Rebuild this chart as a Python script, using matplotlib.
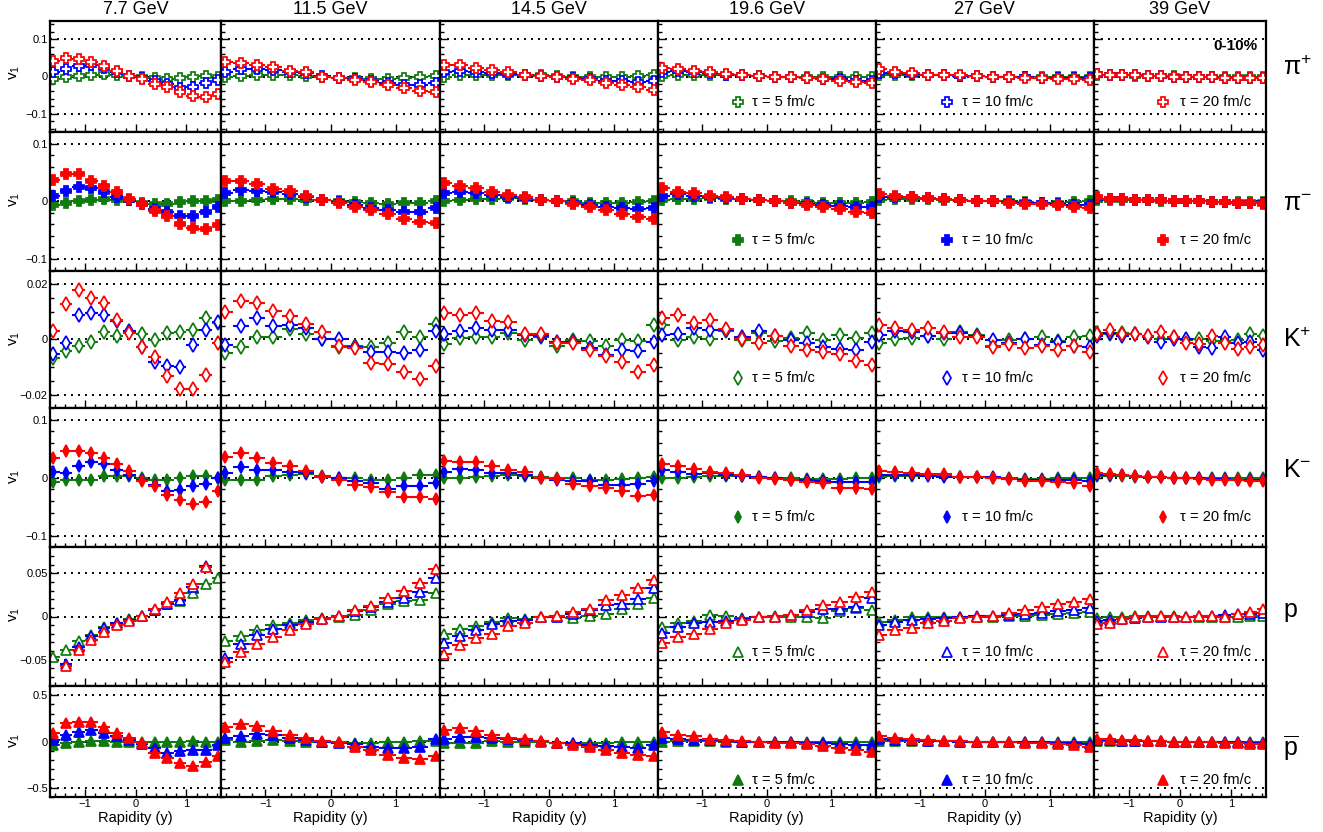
import numpy as np
import matplotlib
matplotlib.use("Agg")
import matplotlib.pyplot as plt
from matplotlib.ticker import MultipleLocator, FuncFormatter
from matplotlib.lines import Line2D

plt.rcParams['font.family'] = ['Liberation Sans', 'DejaVu Sans']
plt.rcParams['mathtext.fontset'] = 'custom'
plt.rcParams['mathtext.rm'] = 'Liberation Sans'
plt.rcParams['mathtext.it'] = 'Liberation Sans:italic'
plt.rcParams['mathtext.bf'] = 'Liberation Sans:bold'

nan = float('nan')

# ---------------- data ----------------
energies = ["7.7 GeV", "11.5 GeV", "14.5 GeV", "19.6 GeV", "27 GeV", "39 GeV"]
tau_labels = ["\u03c4 = 5 fm/c", "\u03c4 = 10 fm/c", "\u03c4 = 20 fm/c"]
particle_labels = [r"$\mathrm{\pi^{+}}$", r"$\mathrm{\pi^{-}}$", r"$\mathrm{K^{+}}$",
                   r"$\mathrm{K^{-}}$", r"$\mathrm{p}$", r"$\mathrm{\overline{p}}$"]
rapidity = [-1.625, -1.375, -1.125, -0.875, -0.625, -0.375, -0.125,
            0.125, 0.375, 0.625, 0.875, 1.125, 1.375, 1.625]
rapidity_halfwidth = 0.125

# pi+
pip_t5 = [
    [-0.007, 0.000, 0.002, 0.004, 0.007, 0.004, 0.002, -0.002, -0.005, -0.007, -0.004, 0.000, 0.002, -0.002],
    [-0.002, 0.002, 0.004, 0.005, 0.004, 0.002, 0.000, -0.004, -0.005, -0.007, -0.007, -0.005, -0.002, 0.002],
    [0.000, 0.004, 0.004, 0.005, 0.005, 0.004, 0.003, 0.001, 0.000, -0.002, -0.002, 0.000, 0.002, 0.003],
    [0.002, 0.004, 0.005, 0.005, 0.004, 0.004, 0.002, 0.000, -0.001, -0.002, -0.002, -0.001, 0.000, 0.000],
    [0.003, 0.005, 0.004, 0.004, 0.003, 0.002, 0.001, 0.000, 0.000, -0.001, -0.001, -0.001, 0.000, 0.000],
    [0.003, 0.003, 0.003, 0.002, 0.002, 0.001, 0.001, 0.000, 0.000, -0.001, -0.001, -0.001, -0.001, -0.001]]
pip_t10 = [
    [0.011, 0.020, 0.027, 0.030, 0.024, 0.013, 0.002, -0.004, -0.013, -0.021, -0.031, -0.029, -0.018, -0.009],
    [0.013, 0.020, 0.020, 0.018, 0.013, 0.009, 0.002, -0.003, -0.007, -0.011, -0.018, -0.022, -0.022, -0.018],
    [0.013, 0.014, 0.013, 0.010, 0.007, 0.004, 0.002, 0.000, -0.004, -0.006, -0.011, -0.013, -0.016, -0.013],
    [0.013, 0.014, 0.013, 0.009, 0.005, 0.004, 0.002, 0.000, -0.002, -0.004, -0.006, -0.008, -0.011, -0.013],
    [0.010, 0.010, 0.007, 0.004, 0.004, 0.002, 0.001, 0.000, -0.001, -0.002, -0.003, -0.004, -0.004, -0.005],
    [0.006, 0.005, 0.004, 0.003, 0.002, 0.001, 0.000, 0.000, -0.001, -0.002, -0.003, -0.003, -0.003, -0.004]]
pip_t20 = [
    [0.043, 0.049, 0.047, 0.039, 0.029, 0.016, 0.002, -0.006, -0.020, -0.029, -0.043, -0.052, -0.056, -0.046],
    [0.040, 0.037, 0.031, 0.025, 0.016, 0.011, 0.000, -0.005, -0.009, -0.016, -0.024, -0.031, -0.040, -0.043],
    [0.032, 0.030, 0.023, 0.018, 0.011, 0.005, 0.001, -0.002, -0.006, -0.010, -0.018, -0.023, -0.029, -0.036],
    [0.023, 0.021, 0.016, 0.011, 0.007, 0.004, 0.001, 0.000, -0.002, -0.004, -0.007, -0.011, -0.014, -0.017],
    [0.019, 0.013, 0.009, 0.005, 0.004, 0.003, 0.001, 0.000, -0.001, -0.004, -0.005, -0.006, -0.008, -0.010],
    [0.007, 0.005, 0.004, 0.003, 0.002, 0.001, 0.000, 0.000, -0.001, -0.002, -0.003, -0.004, -0.004, -0.005]]

# pi-
pim_t5 = [
    [-0.007, -0.003, 0.000, 0.002, 0.004, 0.003, 0.003, -0.002, -0.004, -0.004, -0.001, 0.000, 0.001, 0.003],
    [0.000, 0.000, 0.003, 0.005, 0.004, 0.003, 0.002, 0.000, -0.001, -0.003, -0.004, -0.003, -0.002, 0.001],
    [0.001, 0.003, 0.004, 0.005, 0.006, 0.005, 0.003, 0.001, 0.000, -0.002, -0.003, -0.003, -0.001, 0.000],
    [0.002, 0.004, 0.005, 0.006, 0.005, 0.004, 0.003, 0.001, 0.000, -0.001, -0.002, -0.003, -0.002, -0.001],
    [0.003, 0.004, 0.004, 0.004, 0.003, 0.003, 0.001, 0.001, 0.000, -0.001, -0.002, -0.002, -0.001, 0.000],
    [0.003, 0.003, 0.003, 0.002, 0.002, 0.001, 0.001, 0.000, 0.000, -0.001, -0.001, -0.001, -0.001, -0.001]]
pim_t10 = [
    [0.009, 0.018, 0.025, 0.023, 0.016, 0.008, 0.003, -0.004, -0.013, -0.019, -0.025, -0.025, -0.018, -0.009],
    [0.015, 0.019, 0.018, 0.016, 0.012, 0.008, 0.003, -0.001, -0.006, -0.012, -0.015, -0.018, -0.018, -0.012],
    [0.015, 0.017, 0.014, 0.011, 0.008, 0.006, 0.003, 0.000, -0.003, -0.006, -0.009, -0.011, -0.014, -0.012],
    [0.010, 0.013, 0.010, 0.008, 0.006, 0.004, 0.002, 0.000, -0.002, -0.004, -0.006, -0.008, -0.010, -0.010],
    [0.007, 0.008, 0.007, 0.006, 0.004, 0.003, 0.001, 0.000, -0.001, -0.002, -0.003, -0.004, -0.006, -0.006],
    [0.006, 0.005, 0.004, 0.003, 0.002, 0.002, 0.001, 0.000, 0.000, -0.001, -0.001, -0.002, -0.002, -0.003]]
pim_t20 = [
    [0.038, 0.047, 0.047, 0.036, 0.026, 0.016, 0.005, -0.005, -0.016, -0.026, -0.039, -0.047, -0.048, -0.041],
    [0.035, 0.035, 0.030, 0.022, 0.018, 0.009, 0.003, -0.002, -0.009, -0.015, -0.022, -0.031, -0.035, -0.038],
    [0.032, 0.027, 0.023, 0.017, 0.011, 0.007, 0.003, 0.000, -0.005, -0.010, -0.015, -0.022, -0.027, -0.030],
    [0.023, 0.017, 0.014, 0.009, 0.007, 0.005, 0.003, 0.000, -0.003, -0.006, -0.009, -0.013, -0.018, -0.021],
    [0.013, 0.010, 0.008, 0.006, 0.004, 0.002, 0.001, 0.000, -0.002, -0.004, -0.005, -0.007, -0.010, -0.012],
    [0.008, 0.005, 0.004, 0.003, 0.003, 0.002, 0.001, 0.001, 0.000, -0.001, -0.001, -0.002, -0.003, -0.004]]

# K+
kp_t5 = [
    [-0.0069, -0.0041, -0.0023, -0.0011, 0.0028, 0.0013, 0.0028, 0.0019, -0.0001, 0.0023, 0.0028, 0.0035, 0.0079, 0.0061],
    [-0.0049, -0.0029, 0.0007, 0.0007, 0.0037, 0.0019, 0.0001, -0.0029, -0.0025, -0.0029, -0.0013, 0.0028, 0.0007, 0.0055],
    [-0.0017, 0.0004, 0.0010, 0.0010, 0.0023, -0.0001, 0.0007, -0.0023, -0.0001, -0.0005, -0.0023, -0.0001, -0.0005, 0.0052],
    [0.0052, -0.0001, 0.0007, 0.0001, 0.0031, -0.0001, 0.0023, -0.0005, 0.0004, 0.0025, -0.0001, 0.0016, 0.0004, 0.0023],
    [-0.0013, 0.0001, 0.0004, 0.0013, 0.0001, 0.0028, 0.0016, -0.0023, -0.0001, 0.0001, 0.0007, -0.0005, 0.0007, 0.0013],
    [0.0023, 0.0019, 0.0025, 0.0019, 0.0013, 0.0001, 0.0007, -0.0001, 0.0001, -0.0005, -0.0005, -0.0001, 0.0019, 0.0013]]
kp_t10 = [
    [-0.0053, -0.0013, 0.0088, 0.0094, 0.0088, 0.0067, 0.0031, -0.0029, -0.0083, -0.0095, -0.0099, -0.0020, 0.0034, 0.0064],
    [-0.0020, 0.0047, 0.0077, 0.0049, 0.0052, 0.0040, 0.0001, 0.0001, -0.0029, -0.0047, -0.0047, -0.0049, -0.0038, 0.0031],
    [0.0019, 0.0031, 0.0043, 0.0034, 0.0034, 0.0016, 0.0013, -0.0008, -0.0008, -0.0032, -0.0056, -0.0037, -0.0041, -0.0008],
    [0.0016, 0.0019, 0.0040, 0.0034, 0.0035, 0.0007, 0.0031, 0.0011, -0.0001, -0.0013, -0.0029, -0.0035, -0.0037, -0.0011],
    [0.0016, 0.0031, 0.0028, 0.0013, 0.0025, 0.0023, 0.0013, -0.0001, -0.0013, 0.0001, -0.0020, -0.0011, -0.0025, -0.0029],
    [0.0013, 0.0025, 0.0013, 0.0019, 0.0007, -0.0011, 0.0001, 0.0001, -0.0029, -0.0032, 0.0007, -0.0013, -0.0008, -0.0037]]
kp_t20 = [
    [0.0029, 0.0130, 0.0179, 0.0149, 0.0133, 0.0070, 0.0022, -0.0029, -0.0065, -0.0131, -0.0179, -0.0179, -0.0129, -0.0013],
    [0.0100, 0.0139, 0.0133, 0.0103, 0.0085, 0.0055, 0.0028, -0.0025, -0.0032, -0.0087, -0.0089, -0.0117, -0.0143, -0.0095],
    [0.0097, 0.0088, 0.0095, 0.0067, 0.0064, 0.0019, 0.0019, -0.0013, -0.0013, -0.0038, -0.0061, -0.0081, -0.0117, -0.0093],
    [0.0079, 0.0088, 0.0061, 0.0071, 0.0037, 0.0001, -0.0013, 0.0011, -0.0023, -0.0038, -0.0047, -0.0053, -0.0077, -0.0093],
    [0.0052, 0.0040, 0.0035, 0.0040, 0.0028, 0.0007, 0.0007, -0.0029, -0.0017, -0.0032, -0.0025, -0.0037, -0.0025, -0.0047],
    [0.0019, 0.0035, 0.0019, 0.0019, 0.0013, 0.0028, 0.0007, -0.0013, -0.0017, 0.0013, -0.0013, -0.0035, -0.0029, -0.0020]]

# K-
km_t5 = [
    [-0.008, -0.004, -0.003, -0.004, 0.003, 0.003, 0.003, 0.000, -0.004, -0.003, -0.001, 0.003, 0.003, 0.000],
    [-0.003, -0.004, -0.003, 0.003, 0.004, 0.006, 0.003, 0.000, 0.000, -0.004, -0.004, 0.000, 0.004, 0.004],
    [0.000, 0.000, 0.002, 0.003, 0.004, 0.003, 0.002, 0.000, -0.001, -0.003, -0.003, -0.002, 0.000, 0.002],
    [0.000, -0.001, 0.002, 0.003, 0.003, 0.003, 0.002, 0.000, -0.001, -0.002, -0.002, -0.002, -0.001, 0.000],
    [0.002, 0.003, 0.003, 0.004, 0.003, 0.002, 0.001, 0.000, -0.001, -0.002, -0.002, -0.001, -0.001, 0.000],
    [0.003, 0.003, 0.003, 0.002, 0.002, 0.001, 0.000, 0.000, -0.001, -0.001, -0.001, -0.001, -0.001, -0.001]]
km_t10 = [
    [0.010, 0.008, 0.021, 0.027, 0.023, 0.013, 0.004, -0.003, -0.013, -0.023, -0.021, -0.014, -0.010, 0.000],
    [0.008, 0.018, 0.014, 0.014, 0.010, 0.009, 0.002, -0.001, -0.006, -0.009, -0.019, -0.014, -0.014, -0.009],
    [0.010, 0.016, 0.013, 0.009, 0.008, 0.005, 0.000, -0.003, -0.005, -0.006, -0.012, -0.012, -0.010, -0.006],
    [0.013, 0.010, 0.006, 0.008, 0.004, 0.003, 0.001, 0.000, -0.003, -0.004, -0.006, -0.007, -0.007, -0.007],
    [0.005, 0.004, 0.004, 0.003, 0.002, 0.001, 0.001, 0.002, -0.002, -0.003, -0.003, -0.004, -0.004, -0.005],
    [0.005, 0.004, 0.004, 0.003, 0.002, 0.001, 0.000, -0.001, -0.001, -0.002, -0.002, -0.003, -0.003, -0.004]]
km_t20 = [
    [0.034, 0.046, 0.047, 0.043, 0.035, 0.023, 0.012, -0.006, -0.014, -0.030, -0.038, -0.046, -0.042, -0.023],
    [0.036, 0.042, 0.034, 0.025, 0.020, 0.012, 0.002, -0.004, -0.012, -0.016, -0.025, -0.034, -0.034, -0.036],
    [0.029, 0.028, 0.027, 0.020, 0.014, 0.010, 0.000, -0.002, -0.010, -0.014, -0.018, -0.023, -0.032, -0.029],
    [0.024, 0.020, 0.016, 0.010, 0.008, 0.005, 0.000, -0.002, -0.003, -0.008, -0.009, -0.017, -0.017, -0.020],
    [0.012, 0.010, 0.008, 0.006, 0.006, 0.002, 0.002, 0.000, -0.002, -0.005, -0.005, -0.008, -0.009, -0.014],
    [0.008, 0.006, 0.004, 0.003, 0.002, 0.001, 0.000, -0.001, -0.002, -0.003, -0.003, -0.004, -0.005, -0.005]]

# p
p_t5 = [
    [-0.047, -0.039, -0.028, -0.021, -0.012, -0.007, -0.003, 0.001, 0.008, 0.015, 0.018, 0.027, 0.038, 0.045],
    [-0.028, -0.022, -0.016, -0.010, -0.007, -0.004, -0.002, 0.000, 0.002, 0.007, 0.014, 0.018, 0.019, 0.027],
    [-0.020, -0.014, -0.011, -0.006, -0.002, -0.003, 0.000, 0.001, -0.002, 0.001, 0.003, 0.009, 0.015, 0.021],
    [-0.012, -0.008, -0.005, 0.002, 0.001, -0.002, 0.000, 0.001, 0.000, 0.000, -0.002, 0.006, 0.010, 0.007],
    [-0.006, -0.004, -0.001, 0.000, 0.000, 0.000, 0.000, 0.000, 0.001, 0.001, 0.002, 0.003, 0.004, 0.005],
    [-0.002, -0.001, 0.000, 0.001, 0.001, 0.001, 0.001, 0.000, 0.000, 0.000, 0.000, 0.000, 0.001, 0.001]]
p_t10 = [
    [nan, -0.055, -0.035, -0.022, -0.013, -0.008, -0.004, 0.001, 0.007, 0.015, 0.019, 0.034, 0.058, nan],
    [-0.048, -0.032, -0.021, -0.014, -0.010, -0.006, -0.003, 0.001, 0.006, 0.011, 0.017, 0.021, 0.028, 0.044],
    [-0.031, -0.022, -0.016, -0.009, -0.005, -0.004, 0.000, 0.000, 0.003, 0.008, 0.013, 0.015, 0.020, 0.033],
    [-0.019, -0.012, -0.008, -0.006, -0.005, -0.003, 0.000, 0.000, 0.002, 0.005, 0.009, 0.009, 0.011, 0.021],
    [-0.010, -0.006, -0.004, -0.003, -0.002, 0.000, 0.001, 0.001, 0.002, 0.003, 0.004, 0.006, 0.008, 0.010],
    [-0.005, -0.004, -0.003, -0.002, -0.001, 0.000, 0.000, 0.000, 0.001, 0.001, 0.002, 0.003, 0.003, 0.004]]
p_t20 = [
    [nan, -0.057, -0.039, -0.027, -0.018, -0.010, -0.005, 0.001, 0.009, 0.017, 0.027, 0.037, 0.057, nan],
    [-0.053, -0.041, -0.032, -0.024, -0.016, -0.009, -0.003, 0.001, 0.007, 0.012, 0.021, 0.030, 0.039, 0.055],
    [-0.043, -0.033, -0.025, -0.020, -0.011, -0.007, 0.000, 0.001, 0.005, 0.009, 0.019, 0.025, 0.033, 0.042],
    [-0.031, -0.024, -0.020, -0.014, -0.008, -0.004, 0.000, 0.000, 0.002, 0.007, 0.013, 0.017, 0.022, 0.028],
    [-0.021, -0.016, -0.013, -0.007, -0.005, -0.002, 0.000, 0.001, 0.004, 0.007, 0.011, 0.014, 0.017, 0.020],
    [-0.009, -0.007, -0.003, -0.001, 0.000, 0.001, 0.000, 0.000, 0.001, 0.001, 0.000, 0.003, 0.005, 0.009]]

# anti-proton
pbar_t5 = [
    [-0.036, -0.018, 0.000, 0.007, 0.007, 0.000, 0.000, -0.007, -0.007, -0.007, -0.007, 0.007, 0.000, 0.000],
    [0.018, 0.000, 0.007, 0.011, 0.007, 0.000, 0.000, -0.007, -0.011, -0.018, -0.007, 0.000, 0.007, 0.007],
    [-0.011, -0.011, -0.011, 0.004, 0.000, 0.000, 0.000, -0.011, -0.021, -0.021, -0.011, 0.000, 0.000, 0.000],
    [0.000, 0.004, 0.004, 0.004, 0.000, 0.000, 0.000, -0.007, -0.007, -0.007, 0.000, 0.000, 0.000, 0.000],
    [0.005, 0.005, 0.005, 0.004, 0.003, 0.002, 0.000, 0.000, -0.002, -0.003, -0.004, -0.005, -0.005, -0.005],
    [0.004, 0.004, 0.003, 0.003, 0.002, 0.001, 0.000, 0.000, -0.001, -0.002, -0.003, -0.003, -0.004, -0.004]]
pbar_t10 = [
    [0.018, 0.071, 0.107, 0.125, 0.096, 0.054, 0.018, -0.025, -0.071, -0.125, -0.107, -0.096, -0.089, -0.036],
    [0.036, 0.054, 0.082, 0.071, 0.036, 0.018, 0.000, -0.011, -0.025, -0.054, -0.071, -0.071, -0.061, 0.025],
    [0.025, 0.050, 0.050, 0.039, 0.025, 0.014, 0.004, -0.011, -0.021, -0.039, -0.050, -0.057, -0.067, -0.039],
    [0.039, 0.032, 0.014, 0.014, 0.004, 0.000, 0.000, -0.007, -0.007, -0.011, -0.018, -0.032, -0.039, -0.039],
    [0.025, 0.020, 0.015, 0.010, 0.005, 0.000, 0.000, 0.000, -0.005, -0.010, -0.010, -0.015, -0.020, -0.025],
    [0.015, 0.012, 0.010, 0.008, 0.005, 0.003, 0.000, 0.000, -0.003, -0.005, -0.008, -0.010, -0.012, -0.015]]
pbar_t20 = [
    [0.096, 0.196, 0.214, 0.214, 0.161, 0.089, 0.043, -0.018, -0.125, -0.179, -0.232, -0.268, -0.225, -0.161],
    [0.161, 0.189, 0.168, 0.118, 0.071, 0.036, 0.007, -0.007, -0.054, -0.089, -0.143, -0.179, -0.186, -0.154],
    [0.121, 0.145, 0.110, 0.067, 0.039, 0.025, 0.004, -0.014, -0.039, -0.064, -0.092, -0.128, -0.145, -0.152],
    [0.103, 0.074, 0.060, 0.032, 0.014, 0.004, 0.000, -0.011, -0.011, -0.032, -0.050, -0.074, -0.092, -0.110],
    [0.060, 0.040, 0.025, 0.015, 0.010, 0.005, 0.000, -0.005, -0.010, -0.015, -0.020, -0.030, -0.040, -0.060],
    [0.030, 0.025, 0.020, 0.015, 0.010, 0.005, 0.000, 0.000, -0.005, -0.010, -0.015, -0.020, -0.025, -0.030]]

# small statistical errors in v1 per particle row
v1_err = [0.0015, 0.0015, 0.0006, 0.0015, 0.002, 0.012]

rows_data = [
    (pip_t5, pip_t10, pip_t20),
    (pim_t5, pim_t10, pim_t20),
    (kp_t5, kp_t10, kp_t20),
    (km_t5, km_t10, km_t20),
    (p_t5, p_t10, p_t20),
    (pbar_t5, pbar_t10, pbar_t20),
]

# ---------------- style / layout ----------------
W, H = 1323, 832
col_edges = [50.5, 221, 440, 658, 875.5, 1094, 1266]
row_edges = [20.7, 132.3, 270.5, 408.3, 547.3, 685.7, 797.3]
ylims = [0.15, 0.12, 0.025, 0.12, 0.08, 0.6]
ymajor = [0.1, 0.1, 0.02, 0.1, 0.05, 0.5]
yminor = [0.02, 0.02, 0.005, 0.02, 0.01, 0.1]
colors = ['#0f7a0f', '#0000ff', '#ff0000']
# marker, filled?, size
row_markers = [('P', False, 7.8), ('P', True, 7.2), ('d', False, 7.2),
               ('d', True, 5.8), ('^', False, 7.5), ('^', True, 7.0)]

fig = plt.figure(figsize=(W / 100, H / 100), dpi=100)


def fmt(v, pos):
    if abs(v) < 1e-9:
        return '0'
    return ('%g' % v).replace('-', '\u2212')


def fx(px):
    return px / W


def fy(py):
    return 1 - py / H


for r in range(6):
    mk, filled, ms = row_markers[r]
    for c in range(6):
        x0, x1 = col_edges[c], col_edges[c + 1]
        y0, y1 = row_edges[r], row_edges[r + 1]
        ax = fig.add_axes([fx(x0), fy(y1), (x1 - x0) / W, (y1 - y0) / H])
        ax.set_xlim(-1.68, 1.68)
        ax.set_ylim(-ylims[r], ylims[r])
        k = int(np.floor(ylims[r] / ymajor[r] + 1e-9))
        for i in range(-k, k + 1):
            ax.axhline(i * ymajor[r], color='black', lw=1.4,
                       ls=(0, (1, 2.6)), zorder=0.5)
        for s in range(3):
            yv = np.array(rows_data[r][s][c], dtype=float)
            col = colors[s]
            ax.errorbar(rapidity, yv, xerr=rapidity_halfwidth, yerr=v1_err[r],
                        fmt='none', ecolor=col, elinewidth=1.5, capsize=0,
                        zorder=2 + s)
            ax.plot(rapidity, yv, ls='none', marker=mk, ms=ms,
                    mfc=(col if filled else 'white'), mec=col, mew=1.25,
                    zorder=2.5 + s)
        ax.xaxis.set_major_locator(MultipleLocator(1))
        ax.xaxis.set_minor_locator(MultipleLocator(0.2))
        ax.yaxis.set_major_locator(MultipleLocator(ymajor[r]))
        ax.yaxis.set_minor_locator(MultipleLocator(yminor[r]))
        ax.xaxis.set_major_formatter(FuncFormatter(fmt))
        ax.yaxis.set_major_formatter(FuncFormatter(fmt))
        ax.tick_params(which='both', direction='in', top=False, right=False,
                       labelsize=8, width=1.0, color='black')
        ax.tick_params(which='major', length=5.5, pad=2)
        ax.tick_params(which='minor', length=2.8)
        ax.tick_params(axis='x', pad=1)
        if c != 0:
            ax.tick_params(axis='y', labelleft=False)
        if r != 5:
            ax.tick_params(axis='x', labelbottom=False)
        for sp in ax.spines.values():
            sp.set_linewidth(1.6)
            sp.set_zorder(10)

        # legend entries in the three right-hand columns
        if c >= 3:
            s = c - 3
            leg_y = [102.3, 240, 378.3, 516.7, 651.7, 780][r]
            mx = [738.3, 946.7, 1163.3][s]
            tx = [751.7, 962.3, 1180][s]
            col = colors[s]
            fig.add_artist(Line2D([fx(mx)], [fy(leg_y)], ls='none', marker=mk,
                                  ms=ms, mfc=(col if filled else 'white'),
                                  mec=col, mew=1.25, transform=fig.transFigure))
            fig.text(fx(tx), fy(leg_y), tau_labels[s], ha='left', va='center',
                     fontsize=10.5)

# column titles and x labels
for c in range(6):
    cx = (col_edges[c] + col_edges[c + 1]) / 2
    fig.text(fx(cx), fy(10), energies[c], ha='center', va='center', fontsize=13)
    fig.text(fx(cx), fy(818), 'Rapidity (y)', ha='center', va='center',
             fontsize=10.5)

# y labels and particle labels
vlab_y = [72, 199, 338, 476, 614, 740]
part_y = [68, 204, 340, 470, 612, 748]
for r in range(6):
    fig.text(fx(15), fy(vlab_y[r]), r'$\mathrm{v_{1}}$', rotation=90,
             ha='center', va='center', fontsize=11)
    fig.text(fx(1283), fy(part_y[r]), particle_labels[r], ha='left',
             va='center', fontsize=18)

fig.text(fx(1257), fy(46), '0-10%', ha='right', va='center', fontsize=11,
         fontweight='bold')

fig.savefig('out.png', dpi=100)
